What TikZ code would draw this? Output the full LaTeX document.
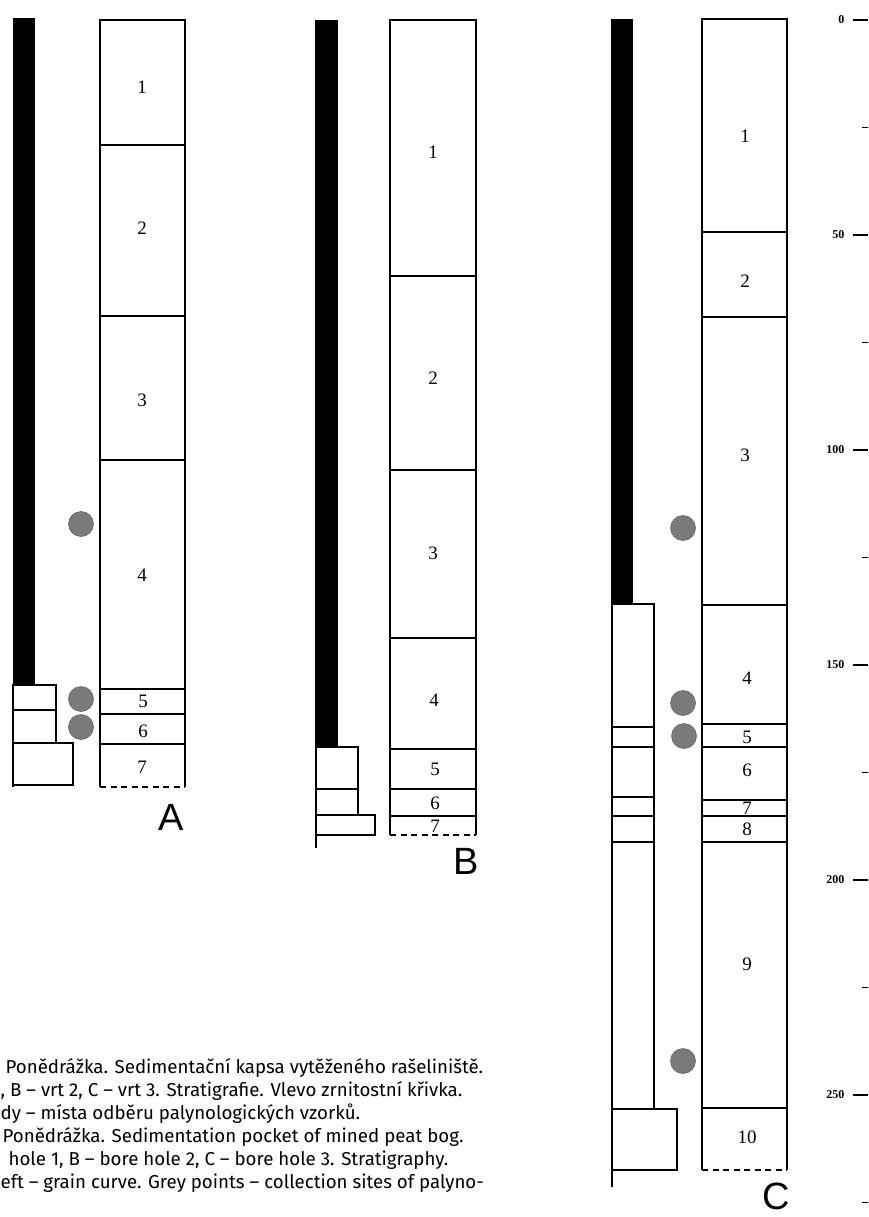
\documentclass[tikz,border=0pt]{standalone}
\usepackage{fontspec}
\setmainfont{Liberation Serif}
\newfontfamily\capfont{Fira Sans}
\newfontfamily\letfont{Liberation Sans}
\definecolor{dotgray}{RGB}{122,122,122}
\begin{document}
\begin{tikzpicture}[x=1pt,y=-1pt,line width=1.2pt,
  lay/.style={font=\fontsize{19}{19}\selectfont,inner sep=0pt},
  dot/.style={circle,fill=dotgray,draw=dotgray!85!black,line width=0.6pt,minimum size=25pt,inner sep=0pt},
  colletter/.style={font=\letfont\fontsize{38}{38}\selectfont,inner sep=0pt},
  scalelab/.style={font=\fontsize{12}{12}\selectfont\bfseries,anchor=east,inner sep=0pt},
  captext/.style={font=\capfont\fontsize{18.7}{18.7}\selectfont,anchor=west,inner sep=0pt},
  bot/.style={dashed,dash pattern=on 6pt off 4.5pt}]
\useasboundingbox (0,0) rectangle (868,1217);
\fill[white] (0,0) rectangle (868,1217);

% ---------------- Column A ----------------
\fill (13,18) rectangle (35,685);
\draw (13,685) rectangle (56,710);
\draw (13,710) rectangle (56,743);
\draw (13,743) rectangle (73,785);
\draw (13,685) -- (13,787);
\draw (100,787) -- (100,20) -- (185,20) -- (185,787);
\draw[bot] (100,787) -- (185,787);
\foreach \yy in {145,316,460,689,714,744} \draw (100,\yy) -- (185,\yy);
\node[lay] (a1) at (142,87) {1};
\node[lay] (a2) at (142,228) {2};
\node[lay] (a3) at (142,400) {3};
\node[lay] (a4) at (142,575) {4};
\node[lay] (a5) at (143,701) {5};
\node[lay] (a6) at (143,731) {6};
\node[lay] (a7) at (142,767) {7};
\node[dot] (ad1) at (81,524) {};
\node[dot] (ad2) at (81,699) {};
\node[dot] (ad3) at (81,727) {};
\node[colletter] (A) at (171,817) {A};

% ---------------- Column B ----------------
\fill (315,20) rectangle (338,747);
\draw (316,747) rectangle (358,789);
\draw (316,789) rectangle (358,815);
\draw (316,815) rectangle (375,835);
\draw (316,747) -- (316,848);
\draw (390,835) -- (390,20) -- (476,20) -- (476,835);
\draw[bot] (390,835) -- (476,835);
\foreach \yy in {276,470,638,749,789,816} \draw (390,\yy) -- (476,\yy);
\node[lay] (b1) at (433,152) {1};
\node[lay] (b2) at (433,378) {2};
\node[lay] (b3) at (433,553) {3};
\node[lay] (b4) at (434,700) {4};
\node[lay] (b5) at (435,769) {5};
\node[lay] (b6) at (435,803) {6};
\node[lay] (b7) at (435,826) {7};
\node[colletter] (B) at (466,861) {B};

% ---------------- Column C ----------------
\fill (611,19) rectangle (633,604);
\draw (612,604) rectangle (654,1109);
\foreach \yy in {727,747,797,816,842} \draw (612,\yy) -- (654,\yy);
\draw (612,1109) rectangle (677,1170);
\draw (612,1109) -- (612,1187);
\draw (702,1170) -- (702,19) -- (787,19) -- (787,1170);
\draw[bot] (702,1170) -- (787,1170);
\foreach \yy in {232,317,605,724,747,800,816,842,1108} \draw (702,\yy) -- (787,\yy);
\node[lay] (c1) at (745,136) {1};
\node[lay] (c2) at (745,281) {2};
\node[lay] (c3) at (745,455) {3};
\node[lay] (c4) at (747,678) {4};
\node[lay] (c5) at (747,737) {5};
\node[lay] (c6) at (747,770) {6};
\node[lay] (c7) at (747,808) {7};
\node[lay] (c8) at (747,829) {8};
\node[lay] (c9) at (747,964) {9};
\node[lay] (c10) at (747,1137) {10};
\node[dot] (cd1) at (683,528) {};
\node[dot] (cd2) at (683,703) {};
\node[dot] (cd3) at (684,736) {};
\node[dot] (cd4) at (683,1061) {};
\node[colletter] (C) at (776,1196) {C};

% ---------------- Scale ----------------
\foreach \d in {0,50,...,250} {
  \draw (853,20+4.3*\d) -- (868,20+4.3*\d);
  \node[scalelab] (s\d) at (845,20+4.3*\d) {\d};
}
\foreach \d in {25,75,...,275} \draw (862,20+4.3*\d) -- (868,20+4.3*\d);

% ---------------- Caption ----------------
\node[captext] (t1) at (5,1068) {Ponědrážka. Sedimentační kapsa vytěženého rašeliniště.};
\node[captext] (t2) at (0,1091) {, B – vrt 2, C – vrt 3. Stratigrafie. Vlevo zrnitostní křivka.};
\node[captext] (t3) at (0,1114) {dy – místa odběru palynologických vzorků.};
\node[captext] (t4) at (2,1137) {Ponědrážka. Sedimentation pocket of mined peat bog.};
\node[captext] (t5) at (8,1160) {hole 1, B – bore hole 2, C – bore hole 3. Stratigraphy.};
\node[captext] (t6) at (0,1183) {eft – grain curve. Grey points – collection sites of palyno-};
\end{tikzpicture}
\end{document}
